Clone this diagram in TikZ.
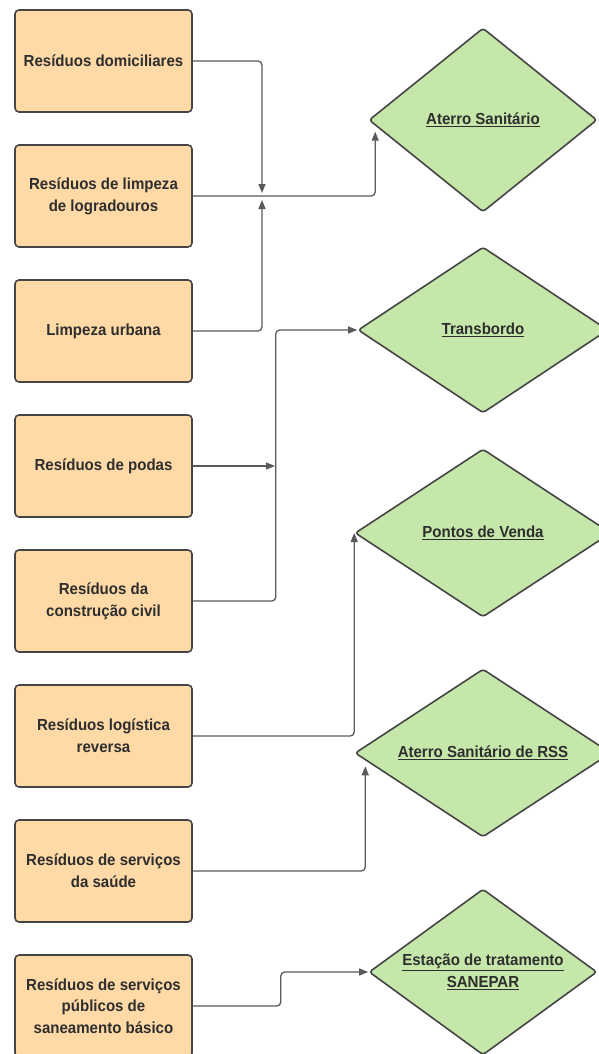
\documentclass[tikz,border=0pt]{standalone}
\usepackage{fontspec}
\setmainfont{Liberation Sans}[FakeStretch=0.94]
\usetikzlibrary{shapes.geometric,arrows.meta,calc}
\definecolor{boxfill}{HTML}{FFD9A6}
\definecolor{dfill}{HTML}{C6E7AA}
\definecolor{edgec}{HTML}{454545}
\definecolor{wire}{HTML}{5A5A5A}
\definecolor{txt}{HTML}{2E2E2E}
\begin{document}
\begin{tikzpicture}[x=1pt,y=-1pt,
  src/.style={draw=edgec,line width=1.6pt,fill=boxfill,rounded corners=4pt,
    minimum width=177pt,minimum height=102pt,inner sep=0pt,align=center,
    font=\bfseries\fontsize{16}{21.8}\selectfont,text=txt},
  dest/.style={draw=edgec,line width=1.6pt,fill=dfill,shape=diamond,inner sep=0pt,
    align=center,font=\bfseries\fontsize{16}{21.8}\selectfont,text=txt,rounded corners=3pt},
  link/.style={draw=wire,line width=1.3pt,rounded corners=4pt,-{Triangle[length=9pt,width=7pt]}}]
\path[use as bounding box, fill=white] (0,0) rectangle (599,1054);
\clip (0,0) rectangle (599,1054);

% source boxes
\node[src] (b1) at (103.5,61)   {Resíduos domiciliares};
\node[src] (b2) at (103.5,196)  {Resíduos de limpeza\\de logradouros};
\node[src] (b3) at (103.5,331)  {Limpeza urbana};
\node[src] (b4) at (103.5,466)  {Resíduos de podas};
\node[src] (b5) at (103.5,601)  {Resíduos da\\construção civil};
\node[src] (b6) at (103.5,736)  {Resíduos logística\\reversa};
\node[src] (b7) at (103.5,871)  {Resíduos de serviços\\da saúde};
\node[src] (b8) at (103.5,1006) {Resíduos de serviços\\públicos de\\saneamento básico};

% destinations
\node[dest,aspect=1.24,minimum width=228pt,minimum height=184pt] (d1) at (483,120) {\underline{Aterro Sanitário}};
\node[dest,aspect=1.5,minimum width=250pt,minimum height=166pt] (d2) at (483,330) {\underline{Transbordo}};
\node[dest,aspect=1.52,minimum width=256pt,minimum height=168pt] (d3) at (483,533) {\underline{Pontos de Venda}};
\node[dest,aspect=1.52,minimum width=256pt,minimum height=168pt] (d4) at (483,753) {\underline{Aterro Sanitário de RSS}};
\node[dest,aspect=1.37,minimum width=228pt,minimum height=166pt] (d5) at (483,972) {\underline{Estação de tratamento}\\\underline{SANEPAR}};

% junction and end points
\coordinate (j1) at (262,196);
\coordinate (j2) at (275,466);
\coordinate (t1) at ($(d1.west)!0.061!(d1.south)+(0,6)$);
\coordinate (t4) at ($(d4.west)!0.086!(d4.south)+(0,6)$);

% connectors
\draw[link] (b1.east) -| ($(j1)+(0,-3)$);
\draw[link] (b3.east) -| ($(j1)+(0,4)$);
\draw[link] (b2.east) -| (t1);
\draw[link] (b4.east) -- (j2);
\draw[link] (b5.east) -- ++(83,0) |- (d2.west);
\draw[link] (b6.east) -| (d3.west);
\draw[link] (b7.east) -| (t4);
\draw[link] (b8.east) -- ++(88,0) |- (d5.west);
\end{tikzpicture}
\end{document}
